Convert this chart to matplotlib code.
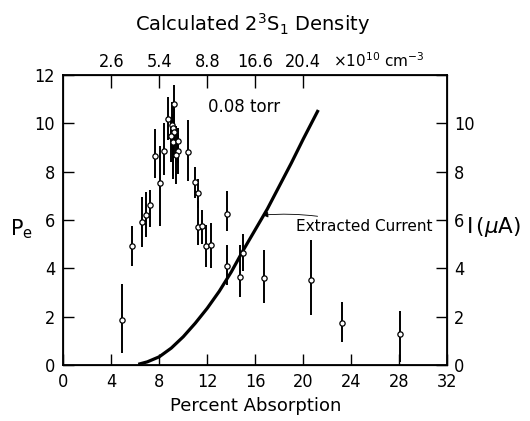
import numpy as np
from matplotlib import pyplot as plt

# measured points: percent absorption, P_e, bar bottom / bar top
pct = [4.9, 5.72, 6.53, 6.89, 7.25, 7.64, 8.08, 8.42, 8.75, 9.03, 9.17, 9.25, 8.97,
       9.17, 9.58, 9.53, 9.36, 9.25, 10.37, 10.98, 11.2, 11.2, 11.53, 11.89, 12.28,
       13.67, 13.67, 14.72, 14.95, 16.75, 20.62, 23.2, 28.06]
pe = [1.87, 4.94, 5.92, 6.22, 6.64, 8.66, 7.54, 8.87, 10.17, 9.93, 9.79, 9.65, 9.47,
      9.24, 9.28, 8.85, 8.69, 10.79, 8.8, 7.56, 7.1, 5.72, 5.75, 4.91, 4.95,
      6.25, 4.08, 3.65, 4.65, 3.61, 3.5, 1.75, 1.28]
pe_lo = [0.5, 4.1, 4.9, 5.3, 5.7, 7.72, 5.77, 7.86, 9.3, 8.9, 7.8, 8.6, 8.4,
         7.7, 8.35, 7.9, 7.5, 9.4, 7.6, 6.9, 6.5, 4.95, 5.0, 4.07, 4.0,
         5.55, 3.3, 2.8, 3.9, 2.55, 2.05, 0.97, 0.12]
pe_hi = [3.36, 5.77, 6.95, 7.17, 7.24, 9.76, 9.05, 10.0, 11.1, 10.9, 10.4, 10.6, 10.1,
         10.1, 9.5, 9.8, 9.9, 11.6, 10.13, 8.2, 7.7, 6.8, 6.4, 5.8, 5.87,
         7.2, 4.95, 4.95, 5.4, 4.74, 5.16, 2.6, 2.25]

# extracted current curve
cur_x = [6.25, 7, 8, 9, 10, 11, 12, 13, 14, 15, 16, 17, 18, 19, 20, 21.25]
cur_y = [0.03, 0.13, 0.34, 0.7, 1.17, 1.73, 2.35, 3.05, 3.85, 4.75, 5.6, 6.45, 7.4, 8.35, 9.35, 10.55]

dens_ticks = [4, 8, 12, 16, 20]
dens_labels = ['2.6', '5.4', '8.8', '16.6', '20.4']

plt.rcParams['font.family'] = ['DejaVu Sans']
plt.rcParams['mathtext.fontset'] = 'dejavusans'

fig = plt.figure(figsize=(5.3, 4.21), dpi=100)
ax = fig.add_axes([0.1194, 0.133, 0.7245, 0.689])

pe = np.array(pe)
yerr = [pe - np.array(pe_lo), np.array(pe_hi) - pe]
ax.errorbar(pct, pe, yerr=yerr, fmt='o', ms=3.8, mfc='white', mec='black', mew=0.9,
            ecolor='black', elinewidth=1.4, capsize=0, zorder=3)
ax.plot(cur_x, cur_y, color='black', lw=2.3, solid_capstyle='butt')

ax.set_xlim(0, 32)
ax.set_ylim(0, 12)
ax.set_xticks(np.arange(0, 33, 4))
ax.set_yticks(np.arange(0, 13, 2))
ax.tick_params(direction='in', length=8, width=1, labelsize=13, pad=6)
for lab in ax.get_xticklabels() + ax.get_yticklabels():
    lab.set_stretch('condensed')
for s in ax.spines.values():
    s.set_linewidth(1.3)

# top axis: density
axt = ax.twiny()
axt.set_xlim(0, 32)
axt.set_xticks(dens_ticks)
axt.set_xticklabels(dens_labels, stretch='condensed')
axt.tick_params(direction='in', length=9, width=1, labelsize=13, pad=3)

# right axis: current
axr = ax.twinx()
axr.set_ylim(0, 12)
axr.set_yticks(np.arange(0, 13, 2))
axr.set_yticklabels(['0', '2', '4', '6', '8', '10', ''], stretch='condensed')
axr.tick_params(direction='in', length=8, width=1, labelsize=13, pad=5)

ax.set_xlabel('Percent Absorption', fontsize=13, labelpad=4)
fig.text(0.477, 0.943, r'Calculated $2^3\mathrm{S}_1$ Density', fontsize=14, ha='center', va='center')
fig.text(0.628, 0.857, r'$\times10^{10}\ \mathrm{cm}^{-3}$', fontsize=11, ha='left', va='center')
fig.text(0.04, 0.455, r'$\mathrm{P_e}$', fontsize=15, ha='center', va='center')
fig.text(0.88, 0.46, r'$\mathrm{I}\,(\mu\mathrm{A})$', fontsize=15.5, ha='left', va='center')

ax.text(12.06, 10.67, '0.08 torr', fontsize=12, ha='left', va='center')
ax.annotate('Extracted Current', xy=(16.6, 6.2), xytext=(19.4, 5.72), fontsize=11,
            ha='left', va='center',
            arrowprops=dict(arrowstyle='-|>', color='black', lw=0.6, mutation_scale=8,
                            shrinkA=1, shrinkB=0, connectionstyle='arc3,rad=0.1'))

fig.savefig('out.png', dpi=100)
